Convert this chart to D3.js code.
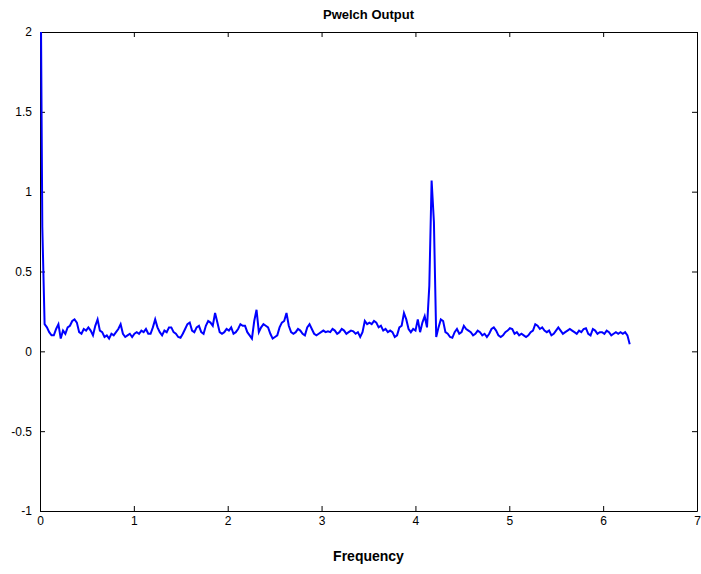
<!DOCTYPE html>
<html>
<head>
<meta charset="utf-8">
<script src="https://cdn.jsdelivr.net/npm/d3@7"></script>
<style>
  body { margin: 0; background: #fff; }
  text { font-family: "Liberation Sans Narrow", "Liberation Sans", Arial, sans-serif; }
</style>
</head>
<body>
<svg width="701" height="574"></svg>
<script>
// Pwelch power estimate, 257 bins from 0 to 2*pi
var power = [
  3.0, 0.78, 0.17, 0.15, 0.12, 0.10, 0.10, 0.14, 0.17, 0.08,
  0.13, 0.11, 0.15, 0.16, 0.19, 0.20, 0.18, 0.12, 0.11, 0.14,
  0.13, 0.15, 0.13, 0.10, 0.16, 0.20, 0.13, 0.12, 0.09, 0.10,
  0.08, 0.11, 0.10, 0.12, 0.14, 0.17, 0.11, 0.09, 0.10, 0.11,
  0.09, 0.11, 0.12, 0.11, 0.13, 0.12, 0.14, 0.11, 0.11, 0.15,
  0.20, 0.15, 0.12, 0.10, 0.13, 0.12, 0.15, 0.15, 0.12, 0.11,
  0.09, 0.085, 0.11, 0.14, 0.17, 0.18, 0.13, 0.12, 0.15, 0.16,
  0.12, 0.11, 0.16, 0.19, 0.18, 0.16, 0.24, 0.18, 0.12, 0.11,
  0.12, 0.14, 0.13, 0.15, 0.11, 0.12, 0.14, 0.17, 0.16, 0.16,
  0.12, 0.10, 0.08, 0.19, 0.26, 0.12, 0.15, 0.17, 0.16, 0.15,
  0.11, 0.08, 0.09, 0.10, 0.15, 0.18, 0.19, 0.24, 0.16, 0.12,
  0.11, 0.12, 0.14, 0.13, 0.11, 0.10, 0.15, 0.17, 0.14, 0.11,
  0.10, 0.11, 0.12, 0.13, 0.12, 0.125, 0.12, 0.14, 0.13, 0.11,
  0.12, 0.14, 0.13, 0.11, 0.12, 0.13, 0.125, 0.11, 0.12, 0.09,
  0.12, 0.19, 0.17, 0.18, 0.17, 0.19, 0.18, 0.15, 0.16, 0.13,
  0.14, 0.12, 0.13, 0.12, 0.09, 0.10, 0.15, 0.16, 0.24, 0.20,
  0.14, 0.12, 0.14, 0.13, 0.20, 0.12, 0.18, 0.22, 0.15, 0.41,
  1.07, 0.81, 0.09, 0.15, 0.20, 0.19, 0.12, 0.11, 0.09, 0.085,
  0.12, 0.14, 0.11, 0.12, 0.16, 0.14, 0.13, 0.12, 0.10, 0.11,
  0.13, 0.12, 0.10, 0.11, 0.09, 0.11, 0.14, 0.15, 0.13, 0.10,
  0.09, 0.10, 0.12, 0.13, 0.145, 0.14, 0.11, 0.12, 0.10, 0.11,
  0.10, 0.09, 0.10, 0.12, 0.13, 0.17, 0.16, 0.14, 0.15, 0.13,
  0.12, 0.13, 0.10, 0.11, 0.13, 0.15, 0.13, 0.11, 0.12, 0.13,
  0.14, 0.13, 0.12, 0.11, 0.13, 0.12, 0.14, 0.145, 0.11, 0.10,
  0.14, 0.13, 0.11, 0.12, 0.12, 0.11, 0.13, 0.12, 0.10, 0.11,
  0.12, 0.11, 0.12, 0.11, 0.12, 0.10, 0.045
];
var xTicks = [0, 1, 2, 3, 4, 5, 6, 7];
var yTicks = [-1, -0.5, 0, 0.5, 1, 1.5, 2];

var svg = d3.select("svg");
var plotLeft = 40, plotRight = 697, plotTop = 32, plotBottom = 511;

// frequency bins (2*pi / 256 apart)
var df = 2 * Math.PI / (power.length - 1);

var x = d3.scaleLinear().domain([0, 7]).range([plotLeft, plotRight]);
var y = d3.scaleLinear().domain([-1, 2]).range([plotBottom, plotTop]);
var fmt = function(d){ return String(d) };

svg.append("clipPath").attr("id", "plotclip")
  .append("rect")
    .attr("x", plotLeft).attr("y", plotTop)
    .attr("width", plotRight - plotLeft).attr("height", plotBottom - plotTop);

// axes, ticks pointing inward like matlab
svg.append("g")
  .attr("transform", "translate(0," + plotBottom + ")")
  .call(d3.axisBottom(x).tickValues(xTicks).tickSizeInner(-5).tickSizeOuter(0).tickPadding(5).tickFormat(fmt));
svg.append("g")
  .attr("transform", "translate(0," + plotTop + ")")
  .call(d3.axisTop(x).tickValues(xTicks).tickSizeInner(-5).tickSizeOuter(0).tickFormat(""));
svg.append("g")
  .attr("transform", "translate(" + plotLeft + ",0)")
  .call(d3.axisLeft(y).tickValues(yTicks).tickSizeInner(-5).tickSizeOuter(0).tickPadding(8).tickFormat(fmt));
svg.append("g")
  .attr("transform", "translate(" + plotRight + ",0)")
  .call(d3.axisRight(y).tickValues(yTicks).tickSizeInner(-5).tickSizeOuter(0).tickFormat(""));

svg.selectAll(".domain").attr("stroke", "#000");
svg.selectAll(".tick line").attr("stroke", "#000");
svg.selectAll(".tick text")
  .attr("font-size", 12)
  .attr("fill", "#000")
  .style("font-family", "'Liberation Sans Narrow', 'Liberation Sans', Arial, sans-serif");

// the spectrum
var line = d3.line()
  .x(function(d, i){ return x(i * df) })
  .y(function(d){ return y(d) });

svg.append("path")
  .datum(power)
  .attr("clip-path", "url(#plotclip)")
  .attr("fill", "none")
  .attr("stroke", "#0000ff")
  .attr("stroke-width", 2)
  .attr("d", line);

// titles
svg.append("text")
  .attr("x", (plotLeft + plotRight) / 2).attr("y", 19)
  .attr("text-anchor", "middle")
  .attr("font-size", 13).attr("font-weight", "bold")
  .text("Pwelch Output");

svg.append("text")
  .attr("x", (plotLeft + plotRight) / 2).attr("y", 561)
  .attr("text-anchor", "middle")
  .attr("font-size", 14).attr("font-weight", "bold")
  .text("Frequency");
</script>
</body>
</html>
